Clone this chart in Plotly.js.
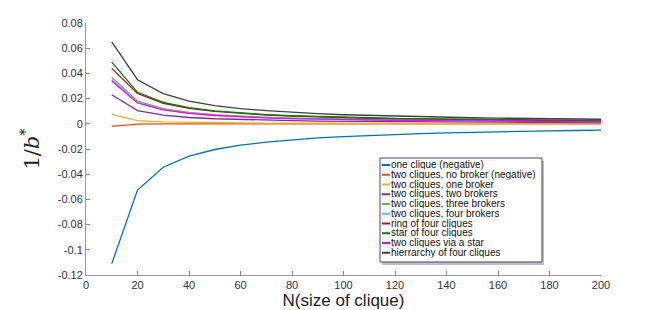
<!DOCTYPE html>
<html>
<head>
<meta charset="utf-8">
<script src="https://cdn.plot.ly/plotly-3.0.1.min.js"></script>
<style>html,body{margin:0;padding:0;background:#fff;}#chart{width:665px;height:310px;}</style>
</head>
<body>
<div id="chart"></div>
<script>
const N = [10,20,30,40,50,60,70,80,90,100,110,120,130,140,150,160,170,180,190,200];
const seriesNames = [
  "one clique (negative)",
  "two cliques, no broker (negative)",
  "two cliques, one broker",
  "two cliques, two brokers",
  "two cliques, three brokers",
  "two cliques, four brokers",
  "ring of four cliques",
  "star of four cliques",
  "two cliques via a star",
  "hierrarchy of four cliques"
];
const seriesColors = ["#0072BD","#D95319","#EDB120","#7E2F8E","#77AC30","#4DBEEE","#A2142F","#008000","#FF00FF","#404040"];

const oneClique      = [-0.111,-0.0526,-0.0345,-0.0256,-0.0204,-0.017,-0.0145,-0.0127,-0.0112,-0.0101,-0.0092,-0.0084,-0.0078,-0.0072,-0.0067,-0.0063,-0.0059,-0.0056,-0.0053,-0.005];
const twoNoBroker    = [-0.002,-0.0003,-0.0001,-0.00005,0,0,0,0,0,0,0,0,0,0,0,0,0,0,0,0];
const twoOneBroker   = [0.0075,0.0025,0.0015,0.0011,0.0009,0.0007,0.0006,0.0005,0.00045,0.0004,0.00036,0.00033,0.0003,0.00028,0.00026,0.00024,0.00023,0.00022,0.00021,0.0002];
const twoTwoBrokers  = [0.023,0.0105,0.0068,0.005,0.004,0.0033,0.0028,0.0025,0.0022,0.002,0.0018,0.0016,0.0015,0.0014,0.0013,0.0012,0.0012,0.0011,0.001,0.001];
const twoThreeBrokers= [0.037,0.018,0.012,0.009,0.0072,0.006,0.0051,0.0045,0.004,0.0036,0.0033,0.003,0.0028,0.0026,0.0024,0.0022,0.0021,0.002,0.0019,0.0018];
const twoFourBrokers = [0.035,0.017,0.0113,0.0085,0.0068,0.0057,0.0048,0.0042,0.0037,0.0034,0.0031,0.0028,0.0026,0.0024,0.0023,0.0021,0.002,0.0019,0.0018,0.0017];
const ringFour       = [0.044,0.024,0.0163,0.0123,0.0098,0.0082,0.007,0.0061,0.0054,0.0049,0.0044,0.0041,0.0038,0.0035,0.0033,0.0031,0.0029,0.0027,0.0026,0.0024];
const starFour       = [0.049,0.025,0.017,0.0128,0.0102,0.0085,0.0073,0.0064,0.0057,0.0051,0.0046,0.0042,0.0039,0.0036,0.0034,0.0032,0.003,0.0028,0.0027,0.0025];
const viaStar        = [0.034,0.0165,0.011,0.0082,0.0066,0.0055,0.0047,0.0041,0.0036,0.0033,0.003,0.0027,0.0025,0.0023,0.0022,0.002,0.0019,0.0018,0.0017,0.0016];
const hierarchyFour  = [0.065,0.035,0.024,0.018,0.0145,0.012,0.0105,0.009,0.008,0.0072,0.0066,0.006,0.0056,0.0052,0.0048,0.0045,0.0043,0.004,0.0038,0.0036];

const allSeries = [oneClique,twoNoBroker,twoOneBroker,twoTwoBrokers,twoThreeBrokers,twoFourBrokers,ringFour,starFour,viaStar,hierarchyFour];

const xTicks = [0,20,40,60,80,100,120,140,160,180,200];
const yTicks = [-0.12,-0.1,-0.08,-0.06,-0.04,-0.02,0,0.02,0.04,0.06,0.08];
const yTickText = ["-0.12","-0.1","-0.08","-0.06","-0.04","-0.02","0","0.02","0.04","0.06","0.08"];

const traces = allSeries.map((ys,i)=>({
  x: N, y: ys, type: "scatter", mode: "lines", name: seriesNames[i],
  line: {color: seriesColors[i], width: 1.3}, showlegend: false
}));

// custom compact legend (paper coordinates)
const L = 86, W = 515, T = 23, H = 252;
const px = v => (v - L) / W;
const py = v => (T + H - v) / H;
const shapes = [];
const annotations = [];
const bx0 = 380, bx1 = 542, by0 = 158, by1 = 262;
shapes.push({type:"rect", xref:"paper", yref:"paper", x0:px(bx0+2), x1:px(bx1+2), y0:py(by1+3), y1:py(by0+3),
  fillcolor:"rgba(0,0,0,0.25)", line:{width:0}, layer:"above"});
shapes.push({type:"rect", xref:"paper", yref:"paper", x0:px(bx0), x1:px(bx1), y0:py(by1), y1:py(by0),
  fillcolor:"#ffffff", line:{color:"#4a3f8a", width:1}, layer:"above"});
seriesNames.forEach((nm,i)=>{
  const yy = 165 + i*9.75;
  shapes.push({type:"line", xref:"paper", yref:"paper", x0:px(382), x1:px(390), y0:py(yy), y1:py(yy),
    line:{color:seriesColors[i], width:2}, layer:"above"});
  annotations.push({xref:"paper", yref:"paper", x:px(390), y:py(yy), xanchor:"left", yanchor:"middle",
    text:nm, showarrow:false, borderpad:0, height:9.5,
    font:{family:"Liberation Sans, Arial, sans-serif", size:10, color:"#111"}});
});

const layout = {
  width: 665, height: 310,
  margin: {l: 86, r: 64, t: 23, b: 35},
  paper_bgcolor: "#fff", plot_bgcolor: "#fff",
  showlegend: false,
  font: {family: "Liberation Sans, Arial, sans-serif", size: 11, color: "#333"},
  xaxis: {
    range: [0, 200], tickvals: xTicks, ticks: "inside", ticklen: 4, tickcolor: "#888",
    showline: true, linecolor: "#999", linewidth: 1, showgrid: false, zeroline: false,
    tickfont: {size: 11, color: "#333"},
    title: {text: "N(size of clique)", font: {size: 17, color: "#222"}, standoff: 2}
  },
  yaxis: {
    range: [-0.12, 0.08], tickvals: yTicks, ticktext: yTickText, ticks: "inside", ticklen: 4, tickcolor: "#888",
    showline: true, linecolor: "#999", linewidth: 1, showgrid: false, zeroline: false,
    tickfont: {size: 11, color: "#333"},
    title: {text: "1/<i>b</i><sup>*</sup>", font: {family: "DejaVu Serif, Liberation Serif, serif", size: 21, color: "#222"}, standoff: 12}
  },
  shapes: shapes,
  annotations: annotations
};

Plotly.newPlot("chart", traces, layout, {displayModeBar: false, staticPlot: true});
</script>
</body>
</html>
